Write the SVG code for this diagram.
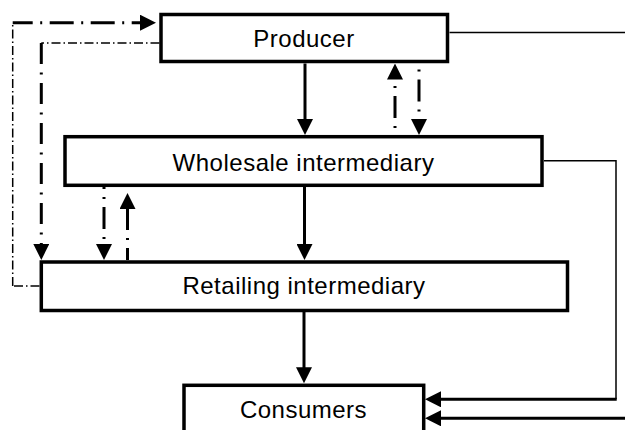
<svg xmlns="http://www.w3.org/2000/svg" width="625" height="430" viewBox="0 0 625 430">
  <style>
    .box { fill: #ffffff; stroke: #000000; stroke-width: 3.5; }
    .label { font-family: "Liberation Sans", Arial, sans-serif; font-size: 24px; letter-spacing: 0.5px; fill: #000000; text-anchor: middle; }
    .solid { fill: none; stroke: #000000; stroke-width: 3; }
    .thin { fill: none; stroke: #000000; stroke-width: 1.5; }
    .dd { fill: none; stroke: #000000; stroke-width: 3; stroke-dasharray: 22 8 2 8; }
    .dd-long { fill: none; stroke: #000000; stroke-width: 3; stroke-dasharray: 21 8.5 2 8.5; }
    .dd-top { fill: none; stroke: #000000; stroke-width: 3; stroke-dasharray: 24 7.5 2 7.5; stroke-dashoffset: 4; }
    .dd-thin { fill: none; stroke: #000000; stroke-width: 1.5; stroke-dasharray: 9 3 1.5 3; }
  </style>
  <defs>
    <marker id="head" viewBox="0 0 16 16" refX="8" refY="8" markerWidth="16" markerHeight="16" markerUnits="userSpaceOnUse" orient="auto">
      <path d="M0,0 L16,8 L0,16 Z" fill="#000000"/>
    </marker>
  </defs>

  <!-- connectors -->
  <g id="connectors">
    <!-- main flow down the chain -->
    <line class="solid" x1="305" y1="63.5" x2="305" y2="127" marker-end="url(#head)"/>
    <line class="solid" x1="304.5" y1="187" x2="304.5" y2="252" marker-end="url(#head)"/>
    <line class="solid" x1="304" y1="312" x2="304" y2="375.3" marker-end="url(#head)"/>

    <!-- information flows between producer and wholesaler -->
    <line class="dd" style="stroke-dashoffset:23" x1="395" y1="135" x2="395" y2="71.5" marker-end="url(#head)"/>
    <line class="dd" style="stroke-dashoffset:24" x1="419" y1="63.5" x2="419" y2="127" marker-end="url(#head)"/>

    <!-- information flows between wholesaler and retailer -->
    <line class="dd" style="stroke-dashoffset:20" x1="104" y1="187" x2="104" y2="252" marker-end="url(#head)"/>
    <line class="dd" style="stroke-dashoffset:10" x1="127.5" y1="260" x2="127.5" y2="201" marker-end="url(#head)"/>

    <!-- producer to retailer, bypassing the wholesaler -->
    <line class="dd-thin" x1="159.5" y1="43" x2="41.3" y2="43"/>
    <line class="dd-long" x1="41.3" y1="43" x2="41.3" y2="252" marker-end="url(#head)"/>

    <!-- retailer back to producer -->
    <line class="dd-thin" x1="39.5" y1="286" x2="12.7" y2="286"/>
    <line class="dd-thin" x1="12.7" y1="286" x2="12.7" y2="22.7"/>
    <line class="dd-top" x1="12.7" y1="22.7" x2="148" y2="22.7" marker-end="url(#head)"/>

    <!-- direct channels to consumers -->
    <polyline class="thin" points="449.5,32.5 625,32.5"/>
    <polyline class="thin" points="544,160.7 616,160.7 616,399.3"/>
    <line class="solid" x1="616.7" y1="399.3" x2="433" y2="399.3" marker-end="url(#head)"/>
    <line class="solid" x1="625" y1="418.3" x2="433" y2="418.3" marker-end="url(#head)"/>
  </g>

  <g id="producer">
    <rect class="box" x="161" y="14.5" width="286.5" height="47"/>
    <text class="label" x="304" y="46.7">Producer</text>
  </g>

  <g id="wholesale">
    <rect class="box" x="65" y="136.7" width="477" height="48.6"/>
    <text class="label" x="303.5" y="171">Wholesale intermediary</text>
  </g>

  <g id="retailing">
    <rect class="box" x="41.3" y="262" width="526.2" height="48.5"/>
    <text class="label" x="304" y="294.3">Retailing intermediary</text>
  </g>

  <g id="consumers">
    <rect class="box" x="184" y="385.3" width="239.7" height="60"/>
    <text class="label" x="303.5" y="418">Consumers</text>
  </g>
</svg>
